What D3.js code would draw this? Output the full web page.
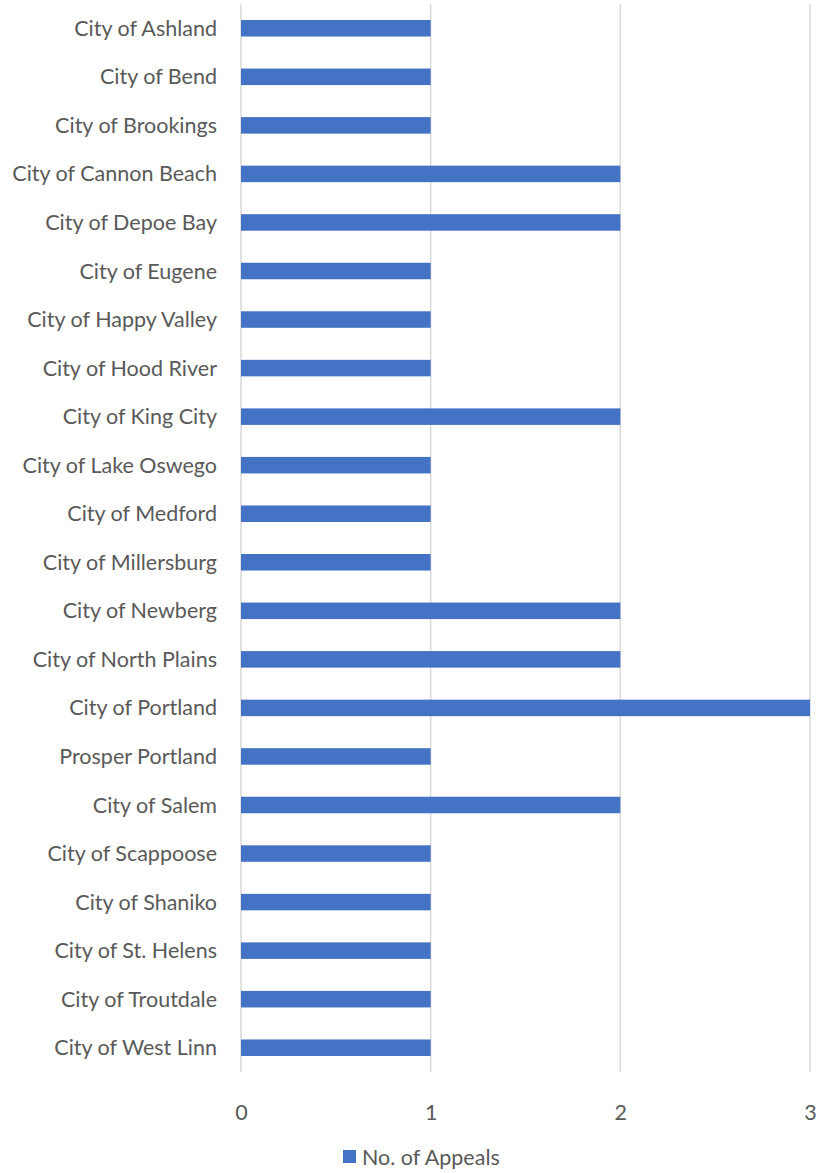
<!DOCTYPE html>
<html>
<head>
<meta charset="utf-8">
<script src="https://cdn.jsdelivr.net/npm/d3@7"></script>
<style>
  body { margin: 0; background: #fff; }
  text { font-family: Lato, "Open Sans", sans-serif; fill: #595959; }
</style>
</head>
<body>
<div id="chart"></div>
<script>
const cities = ["City of Ashland", "City of Bend", "City of Brookings", "City of Cannon Beach",
  "City of Depoe Bay", "City of Eugene", "City of Happy Valley", "City of Hood River",
  "City of King City", "City of Lake Oswego", "City of Medford", "City of Millersburg",
  "City of Newberg", "City of North Plains", "City of Portland", "Prosper Portland",
  "City of Salem", "City of Scappoose", "City of Shaniko", "City of St. Helens",
  "City of Troutdale", "City of West Linn"];
const appeals = [1, 1, 1, 2, 2, 1, 1, 1, 2, 1, 1, 1, 2, 2, 3, 1, 2, 1, 1, 1, 1, 1];
const xTicks = [0, 1, 2, 3];
const seriesName = "No. of Appeals";

const width = 818,
      height = 1173,
      margin = ({ top: 4, right: 8, bottom: 101, left: 241 });

const data = cities.map((c, i) => ({ city: c, num: appeals[i] }));

let svg = d3.select("#chart")
    .append("svg")
    .attr("width", width)
    .attr("height", height);

let x = d3.scaleLinear()
    .domain([0, 3])
    .range([margin.left, 810]);

let y = d3.scaleBand()
    .domain(cities)
    .range([margin.top, height - margin.bottom])
    .paddingInner(0.66)
    .paddingOuter(0.33);

// gridlines
svg.append("g")
    .selectAll("line")
    .data(xTicks)
    .join("line")
    .attr("x1", d => x(d))
    .attr("x2", d => x(d))
    .attr("y1", margin.top)
    .attr("y2", height - margin.bottom)
    .attr("stroke", "#d9d9d9")
    .attr("stroke-width", 1.5);

// bars
svg.append("g")
    .selectAll("rect")
    .data(data)
    .join("rect")
    .attr("fill", "#4472c4")
    .attr("x", x(0))
    .attr("y", d => y(d.city))
    .attr("width", d => x(d.num) - x(0))
    .attr("height", y.bandwidth());

// category labels
let yAxis = svg.append("g")
    .attr("transform", `translate(${margin.left - 24},0)`)
    .call(d3.axisLeft(y).tickSize(0).tickPadding(0));
yAxis.select(".domain").remove();
yAxis.selectAll("text")
    .style("font-size", "21.5px")
    .attr("dy", "0.35em");

// value ticks
let xAxis = svg.append("g")
    .attr("transform", `translate(0,${height - margin.bottom})`)
    .call(d3.axisBottom(x).tickValues(xTicks).tickFormat(d3.format("d")).tickSize(0).tickPadding(33));
xAxis.select(".domain").remove();
xAxis.selectAll("text").style("font-size", "21.5px");

// legend
let legend = svg.append("g")
    .attr("transform", "translate(343,1150)");
legend.append("rect")
    .attr("width", 13)
    .attr("height", 13)
    .attr("fill", "#4472c4");
legend.append("text")
    .attr("x", 19)
    .attr("y", 7)
    .attr("dy", "0.35em")
    .style("font-size", "21.5px")
    .text(seriesName);
</script>
</body>
</html>
